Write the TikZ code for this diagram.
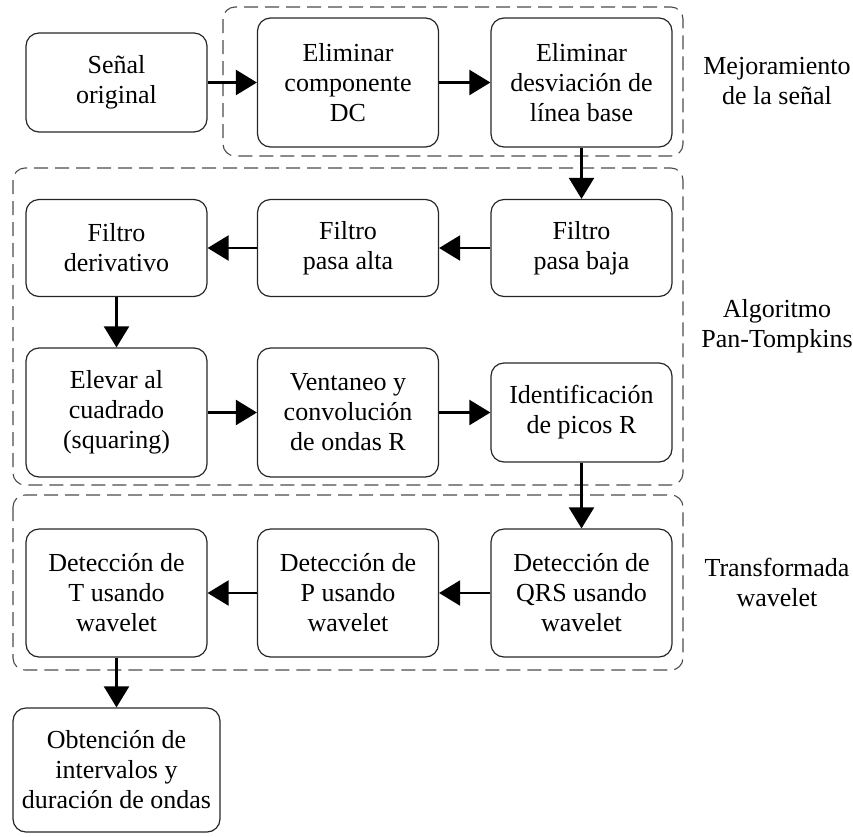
\documentclass[tikz,border=0pt]{standalone}
\usepackage{fontspec}
\setmainfont{Liberation Serif}
\usetikzlibrary{arrows.meta}
\begin{document}
\begin{tikzpicture}[x=1pt,y=-1pt,
  blk/.style={draw=black!85,line width=1.2pt,rounded corners=13pt,align=center,
    minimum width=181pt,inner sep=0pt,font=\fontsize{26}{30}\selectfont},
  grp/.style={draw=black!70,line width=1.1pt,dash pattern=on 14pt off 7pt,rounded corners=12pt},
  lab/.style={align=center,font=\fontsize{26}{30}\selectfont},
  arr/.style={line width=2.2pt,-{Triangle[length=21pt,width=25pt]}}]
\useasboundingbox (0,0) rectangle (853,836);
% groups
\draw[grp] (223,7) rectangle (683,156);
\draw[grp] (13,168) rectangle (683,485);
\draw[grp] (13,495) rectangle (683,670);
% row 1
\node[blk,minimum height=99pt] (s) at (116.5,82.5) {Señal\\original};
\node[blk,minimum height=129pt] (dc) at (348,82.5) {Eliminar\\componente\\DC};
\node[blk,minimum height=129pt] (lb) at (581.5,82.5) {Eliminar\\desviación de\\línea base};
% row 2
\node[blk,minimum height=97pt] (pb) at (581.5,248) {Filtro\\pasa baja};
\node[blk,minimum height=97pt] (pa) at (348,248) {Filtro\\pasa alta};
\node[blk,minimum height=97pt] (fd) at (116.5,248) {Filtro\\derivativo};
% row 3
\node[blk,minimum height=129pt] (el) at (116.5,412.5) {Elevar al\\cuadrado\\(squaring)};
\node[blk,minimum height=129pt] (ve) at (348,412.5) {Ventaneo y\\convolución\\de ondas R};
\node[blk,minimum height=99pt] (id) at (581.5,412.5) {Identificación\\de picos R};
% row 4
\node[blk,minimum height=128pt] (qrs) at (581.5,593) {Detección de\\QRS usando\\wavelet};
\node[blk,minimum height=128pt] (p) at (348,593) {Detección de\\P usando\\wavelet};
\node[blk,minimum height=128pt] (t) at (116.5,593) {Detección de\\T usando\\wavelet};
% row 5
\node[blk,minimum width=207pt,minimum height=124pt] (ob) at (116.5,770) {Obtención de\\intervalos y\\duración de ondas};
% labels
\node[lab] (l1) at (777,81) {Mejoramiento\\de la señal};
\node[lab] (l2) at (777,326) {Algoritmo\\Pan-Tompkins};
\node[lab] (l3) at (777,582) {Transformada\\wavelet};
% arrows
\draw[arr] (s) -- (dc);
\draw[arr] (dc) -- (lb);
\draw[arr] (lb) -- (pb);
\draw[arr] (pb) -- (pa);
\draw[arr] (pa) -- (fd);
\draw[arr] (fd) -- (el);
\draw[arr] (el) -- (ve);
\draw[arr] (ve) -- (id);
\draw[arr] (id) -- (qrs);
\draw[arr] (qrs) -- (p);
\draw[arr] (p) -- (t);
\draw[arr] (t) -- (ob);
\end{tikzpicture}
\end{document}
